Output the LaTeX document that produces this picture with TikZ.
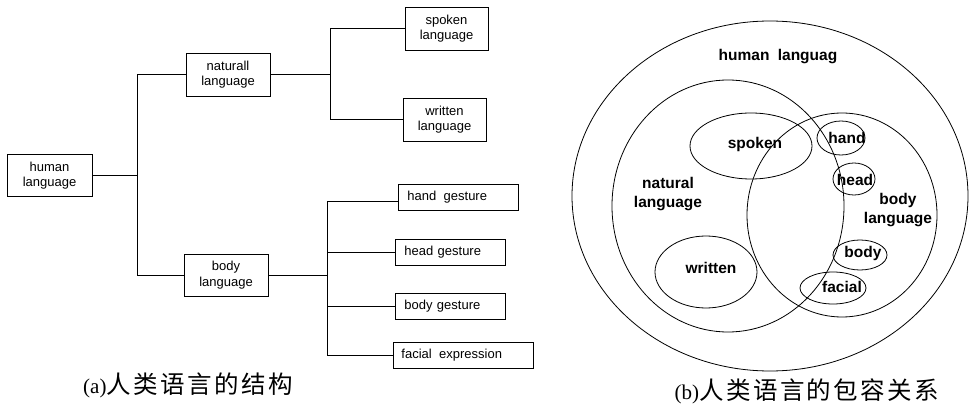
\documentclass[tikz,border=0pt]{standalone}
\usepackage{fontspec}
\setmainfont{Liberation Sans}
\newfontfamily\capfont[LetterSpace=10]{Noto Sans CJK SC}
\newfontfamily\capserif{Liberation Serif}
\begin{document}
\begin{tikzpicture}[x=1pt,y=-1pt,
  treebox/.style={draw, line width=0.9pt, inner sep=0pt, align=center,
    font=\fontsize{13}{15.5}\selectfont},
  leafbox/.style={draw, line width=0.9pt, inner ysep=0pt, anchor=west,
    minimum height=26pt, align=left, font=\fontsize{13}{15.5}\selectfont},
  link/.style={line width=0.8pt},
  ring/.style={line width=0.8pt},
  tag/.style={font=\fontsize{15.5}{19}\selectfont\bfseries, align=center, inner sep=0pt},
  caption/.style={inner sep=0pt, font=\fontsize{24.5}{28}\selectfont}
]
\useasboundingbox (0,0) rectangle (970,406);

% ---------- (a) tree of human language ----------
\node[treebox, minimum width=85pt, minimum height=42pt] (hum) at (49.5,175.5) {human\\language};
\node[treebox, minimum width=84pt, minimum height=43pt] (nat) at (228,74.5) {naturall\\language};
\node[treebox, minimum width=84pt, minimum height=42pt] (bod) at (226,275) {body\\language};
\node[treebox, minimum width=83pt, minimum height=43pt] (spk) at (446.5,28.5) {spoken\\language};
\node[treebox, minimum width=83pt, minimum height=43pt] (wrt) at (444.5,119.5) {written\\language};

\node[leafbox, inner xsep=9pt, text width=102pt] (hg) at (398,197) {hand\hspace{3pt} gesture};
\node[leafbox, inner xsep=9pt, text width=92pt] (headg) at (395,252) {head gesture};
\node[leafbox, inner xsep=9pt, text width=92pt] (bodyg) at (395,306) {body gesture};
\node[leafbox, inner xsep=8pt, text width=124pt] (fac) at (393,355) {facial\hspace{3pt} expression};

% x positions of the vertical bars of the elbow connectors
\coordinate (j1) at (137,177);
\coordinate (j2) at (330,76);
\coordinate (j3) at (327,277);

\draw[link] (hum.east) -- (hum.east -| j1);
\draw[link] (nat.west) -- (nat.west -| j1) -- (bod.west -| j1) -- (bod.west);

\draw[link] (nat.east) -- (nat.east -| j2);
\draw[link] (spk.west) -- (spk.west -| j2) -- (wrt.west -| j2) -- (wrt.west);

\draw[link] (bod.east) -- (bod.east -| j3);
\draw[link] ([yshift=-4pt]hg.west) -- ([yshift=-4pt]hg.west -| j3) -- (fac.west -| j3) -- (fac.west);
\draw[link] (headg.west -| j3) -- (headg.west);
\draw[link] (bodyg.west -| j3) -- (bodyg.west);

\node[caption] (capa) at (188,385) {{\capserif\fontsize{21}{24}\selectfont (a)}\capfont 人类语言的结构};

% ---------- (b) inclusion of human language ----------
\draw[ring] (770,196) ellipse (198 and 175);
\draw[ring] (728,206) ellipse (116 and 126);
\draw[ring] (842,215) ellipse (95 and 102);
\draw[ring] (751,146) ellipse (61 and 33);
\draw[ring] (706,272) ellipse (51 and 36);
\draw[ring] (841,138) ellipse (24 and 17);
\draw[ring] (854,179) ellipse (21 and 16);
\draw[ring] (860,255) ellipse (27 and 15);
\draw[ring] (833,288) ellipse (33 and 16);

\node[tag] (thum) at (778,57) {human\hspace{4pt} languag};
\node[tag] (tnat) at (668,194) {natural\\language};
\node[tag] (tbod) at (898,210) {body\\language};
\node[tag] (tspk) at (755,144) {spoken};
\node[tag] (twrt) at (711,268) {written};
\node[tag] (thand) at (847,138) {hand};
\node[tag] (thead) at (855,180) {head};
\node[tag] (tbody) at (863,253) {body};
\node[tag] (tfac) at (842,287) {facial};

\node[caption] (capb) at (807,391) {{\capserif\fontsize{21}{24}\selectfont (b)}\capfont 人类语言的包容关系};
\end{tikzpicture}
\end{document}
